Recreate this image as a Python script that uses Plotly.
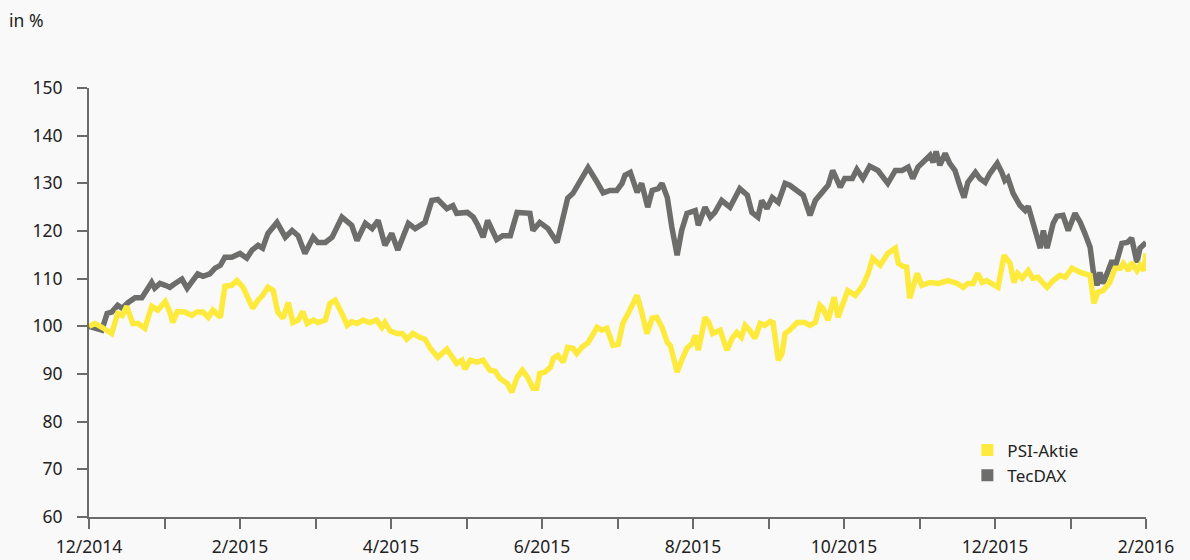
import plotly.graph_objects as go

# x = months since 12/2014 (equal spacing per month on the axis)
tec_x = [0.00, 0.17, 0.24, 0.30, 0.38, 0.44, 0.52, 0.61, 0.70, 0.77, 0.83, 0.87, 0.94, 1.01, 1.07,
         1.14, 1.23, 1.30, 1.36, 1.44, 1.51, 1.60, 1.67, 1.74, 1.80, 1.89, 2.00, 2.09, 2.16, 2.24,
         2.30, 2.37, 2.49, 2.60, 2.69, 2.77, 2.86, 2.97, 3.03, 3.13, 3.22, 3.35, 3.48, 3.55, 3.66,
         3.75, 3.83, 3.92, 4.01, 4.09, 4.23, 4.32, 4.45, 4.54, 4.62, 4.74, 4.82, 4.87, 5.01, 5.09,
         5.15, 5.22, 5.28, 5.40, 5.48, 5.58, 5.67, 5.75, 5.84, 5.88, 5.97, 6.08, 6.20, 6.28, 6.34,
         6.41, 6.50, 6.61, 6.72, 6.81, 6.90, 6.99, 7.06, 7.10, 7.17, 7.26, 7.32, 7.40, 7.46, 7.54,
         7.59, 7.66, 7.72, 7.79, 7.85, 7.92, 8.03, 8.07, 8.16, 8.23, 8.29, 8.38, 8.49, 8.62, 8.72,
         8.78, 8.86, 8.91, 8.98, 9.05, 9.13, 9.22, 9.28, 9.35, 9.46, 9.55, 9.62, 9.71, 9.79, 9.85,
         9.95, 10.01, 10.11, 10.17, 10.25, 10.34, 10.45, 10.58, 10.68, 10.77, 10.85, 10.91, 10.98,
         11.07, 11.14, 11.18, 11.22, 11.27, 11.34, 11.40, 11.47, 11.54, 11.59, 11.64, 11.74, 11.80,
         11.87, 11.93, 12.03, 12.09, 12.13, 12.17, 12.24, 12.33, 12.40, 12.44, 12.50, 12.60, 12.64,
         12.69, 12.77, 12.82, 12.90, 12.97, 13.06, 13.13, 13.19, 13.26, 13.30, 13.35, 13.39, 13.43,
         13.50, 13.55, 13.59, 13.68, 13.75, 13.81, 13.88, 13.92, 14.00]
tec_y = [100.0, 99.2, 102.7, 103.0, 104.4, 103.8, 105.0, 106.0, 106.0, 107.5, 109.2, 108.0, 109.0,
         108.6, 108.2, 109.0, 109.9, 108.0, 109.2, 111.0, 110.5, 111.0, 112.2, 112.8, 114.5, 114.5,
         115.3, 114.3, 116.0, 117.0, 116.4, 119.5, 121.8, 118.7, 120.1, 119.0, 115.3, 118.7, 117.6,
         117.6, 118.7, 122.9, 121.2, 118.0, 121.6, 120.5, 122.2, 117.0, 119.5, 116.0, 121.6, 120.5,
         121.8, 126.4, 126.6, 124.7, 125.3, 123.7, 123.9, 122.9, 121.2, 118.7, 122.2, 118.2, 119.0,
         119.0, 123.9, 123.7, 123.7, 120.1, 121.8, 120.5, 117.6, 122.9, 126.9, 127.9, 130.6, 133.3,
         130.5, 128.0, 128.5, 128.5, 130.0, 131.7, 132.3, 128.1, 130.0, 125.0, 128.5, 128.9, 130.0,
         127.0, 120.8, 114.9, 120.1, 123.7, 124.3, 121.2, 125.0, 122.9, 123.9, 126.4, 125.0, 128.9,
         127.5, 123.9, 122.9, 126.4, 124.7, 127.0, 126.0, 130.0, 129.6, 128.9, 127.5, 123.3, 126.4,
         128.1, 129.6, 132.7, 129.2, 131.0, 131.0, 132.9, 131.0, 133.6, 132.7, 130.0, 132.7, 132.7,
         133.4, 131.0, 133.4, 134.8, 135.9, 134.4, 136.7, 133.8, 136.3, 134.2, 132.7, 129.2, 127.0,
         130.2, 132.3, 131.0, 130.2, 132.0, 134.2, 132.3, 130.6, 131.2, 127.9, 125.4, 124.3, 125.2,
         121.6, 116.4, 120.1, 116.4, 121.6, 123.1, 123.3, 120.1, 123.7, 121.8, 119.5, 116.6, 111.7,
         108.6, 111.3, 109.0, 111.7, 113.8, 112.4, 117.4, 117.6, 118.5, 113.4, 116.4, 117.6]

psi_x = [0.00, 0.08, 0.17, 0.30, 0.38, 0.44, 0.50, 0.58, 0.65, 0.74, 0.83, 0.91, 1.01, 1.07, 1.11,
         1.17, 1.27, 1.36, 1.43, 1.51, 1.58, 1.64, 1.74, 1.80, 1.89, 1.96, 2.04, 2.11, 2.17, 2.24,
         2.30, 2.37, 2.44, 2.50, 2.57, 2.64, 2.70, 2.77, 2.83, 2.89, 2.97, 3.03, 3.13, 3.19, 3.26,
         3.35, 3.42, 3.48, 3.55, 3.63, 3.72, 3.81, 3.88, 3.92, 3.99, 4.08, 4.15, 4.21, 4.29, 4.38,
         4.45, 4.52, 4.62, 4.74, 4.81, 4.87, 4.94, 4.98, 5.05, 5.14, 5.22, 5.31, 5.38, 5.44, 5.54,
         5.60, 5.67, 5.74, 5.81, 5.88, 5.93, 5.97, 6.04, 6.11, 6.15, 6.21, 6.28, 6.34, 6.41, 6.46,
         6.53, 6.61, 6.73, 6.79, 6.86, 6.94, 7.01, 7.07, 7.14, 7.26, 7.32, 7.39, 7.46, 7.52, 7.59,
         7.66, 7.70, 7.79, 7.85, 7.92, 7.99, 8.03, 8.07, 8.16, 8.21, 8.26, 8.36, 8.45, 8.52, 8.58,
         8.64, 8.69, 8.75, 8.82, 8.89, 8.95, 9.02, 9.06, 9.13, 9.18, 9.22, 9.28, 9.38, 9.48, 9.55,
         9.62, 9.68, 9.72, 9.79, 9.87, 9.92, 9.99, 10.05, 10.15, 10.25, 10.32, 10.38, 10.48, 10.58,
         10.68, 10.72, 10.78, 10.83, 10.87, 10.97, 11.03, 11.14, 11.25, 11.38, 11.50, 11.58, 11.64,
         11.71, 11.77, 11.83, 11.89, 11.97, 12.04, 12.12, 12.20, 12.25, 12.30, 12.36, 12.44, 12.50,
         12.57, 12.64, 12.69, 12.77, 12.86, 12.93, 13.02, 13.13, 13.26, 13.31, 13.36, 13.43, 13.52,
         13.59, 13.66, 13.70, 13.77, 13.81, 13.88, 13.92, 13.97, 14.00]
psi_y = [100.0, 100.6, 99.8, 98.5, 102.7, 102.3, 104.2, 100.6, 100.6, 99.6, 104.2, 103.4, 105.2,
         103.0, 100.8, 103.1, 103.0, 102.3, 103.0, 103.0, 101.9, 103.4, 101.9, 108.4, 108.6, 109.6,
         108.2, 106.0, 103.8, 105.5, 106.5, 108.2, 107.5, 103.0, 101.7, 105.0, 100.8, 101.3, 103.1,
         100.6, 101.3, 100.8, 101.3, 104.8, 105.5, 102.7, 100.2, 101.0, 100.6, 101.3, 100.8, 101.3,
         99.8, 100.8, 99.0, 98.5, 98.5, 97.3, 98.5, 97.7, 97.3, 95.4, 93.5, 95.2, 93.5, 92.2, 92.9,
         91.0, 92.9, 92.5, 92.9, 90.8, 90.6, 89.1, 88.0, 86.2, 89.3, 90.8, 89.3, 87.0, 87.0, 90.1,
         90.4, 91.4, 93.3, 93.9, 92.5, 95.6, 95.4, 94.3, 95.6, 96.6, 99.8, 99.2, 99.6, 96.0, 96.2,
         100.6, 102.7, 106.5, 103.0, 98.5, 101.7, 101.9, 99.8, 96.6, 96.0, 90.4, 92.9, 95.4, 96.4,
         98.1, 95.0, 101.9, 100.8, 98.5, 99.2, 95.0, 97.5, 98.7, 97.7, 100.2, 99.2, 97.5, 100.6,
         100.2, 101.0, 100.8, 92.9, 94.3, 98.5, 99.2, 100.8, 100.8, 100.2, 100.8, 104.4, 103.8,
         101.3, 106.1, 101.9, 105.0, 107.5, 106.5, 108.6, 111.1, 114.3, 112.8, 115.3, 116.4, 113.2,
         112.6, 112.4, 105.9, 111.1, 108.6, 109.2, 109.0, 109.6, 109.0, 108.2, 109.0, 109.0, 111.1,
         109.2, 109.6, 109.0, 108.2, 114.9, 113.2, 109.2, 111.1, 110.1, 111.7, 110.1, 110.3, 109.0,
         108.2, 109.6, 110.7, 110.3, 112.2, 111.3, 110.7, 104.8, 107.1, 107.5, 109.2, 112.2, 112.2,
         113.2, 111.7, 113.4, 111.7, 112.8, 111.7, 115.3]

month_ticks = list(range(15))
month_labels = ["12/2014", "", "2/2015", "", "4/2015", "", "6/2015", "", "8/2015", "",
                "10/2015", "", "12/2015", "", "2/2016"]
y_ticks = [60, 70, 80, 90, 100, 110, 120, 130, 140, 150]

YELLOW = "#fdea3c"
GREY = "#6d6d6b"
AXIS = "#6b6b6b"
BG = "#f9f9f9"
TXT = "#222222"
FONT = "Noto Sans"

fig = go.Figure()

fig.add_trace(go.Scatter(x=tec_x, y=tec_y, mode="lines", line=dict(color=GREY, width=5.5),
                         showlegend=False, hoverinfo="skip"))
fig.add_trace(go.Scatter(x=psi_x, y=psi_y, mode="lines", line=dict(color=YELLOW, width=5.5),
                         showlegend=False, hoverinfo="skip"))

# legend entries with square swatches
fig.add_trace(go.Scatter(x=[None], y=[None], mode="markers", name="PSI-Aktie",
                         marker=dict(symbol="square", size=12, color=YELLOW)))
fig.add_trace(go.Scatter(x=[None], y=[None], mode="markers", name="TecDAX",
                         marker=dict(symbol="square", size=12, color=GREY)))

fig.update_layout(
    width=1190, height=560,
    margin=dict(l=89, r=44, t=88, b=43),
    paper_bgcolor=BG, plot_bgcolor=BG,
    font=dict(family=FONT, size=18, color=TXT),
    legend=dict(x=0.831, y=0.197, xanchor="left", yanchor="top",
                bgcolor="rgba(0,0,0,0)", font=dict(size=17, color=TXT),
                itemwidth=30, tracegroupgap=0),
    annotations=[dict(text="in %", xref="paper", yref="paper", x=-0.0775, y=1.158,
                      xanchor="left", yanchor="middle", showarrow=False,
                      font=dict(size=17.5, color=TXT))],
)

fig.update_xaxes(range=[0, 14], tickvals=month_ticks, ticktext=month_labels, automargin=False,
                 showgrid=False, zeroline=False, showline=True, linecolor=AXIS, linewidth=2,
                 ticks="outside", ticklen=10, tickwidth=1.5, tickcolor=AXIS,
                 ticklabelstandoff=3, tickfont=dict(size=17.5, color=TXT))
fig.update_yaxes(range=[60, 150], tickvals=y_ticks, automargin=False,
                 showgrid=False, zeroline=False, showline=True, linecolor=AXIS, linewidth=2,
                 ticks="outside", ticklen=10, tickwidth=1.5, tickcolor=AXIS,
                 ticklabelstandoff=11, tickfont=dict(size=17.5, color=TXT))

fig.write_html("out.html", config={"displayModeBar": False},
               post_script="document.body.style.margin='0';document.body.style.background='%s';" % BG)
